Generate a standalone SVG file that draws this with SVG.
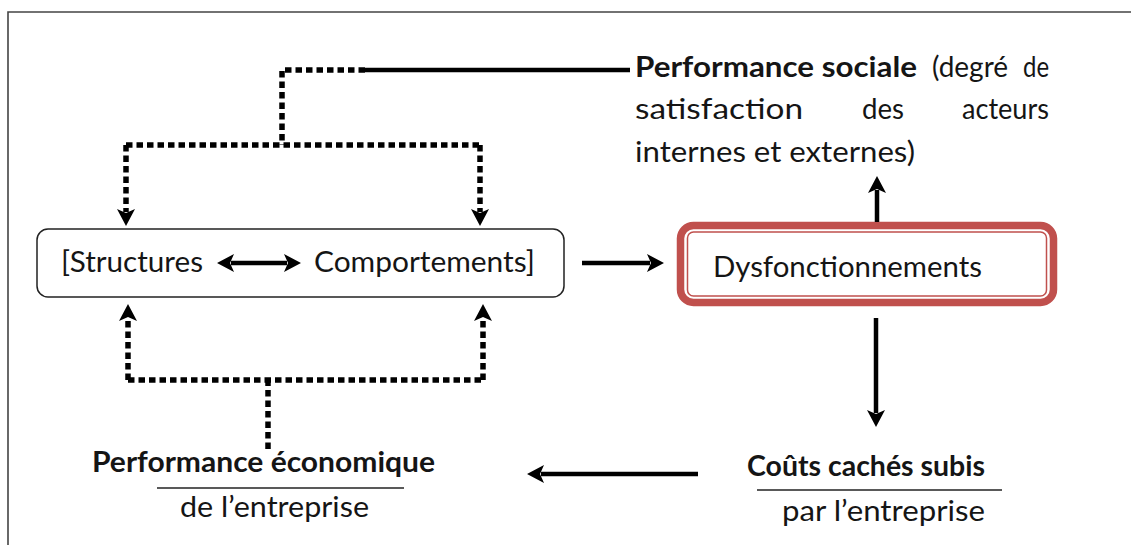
<svg xmlns="http://www.w3.org/2000/svg" width="1131" height="545" viewBox="0 0 1131 545">
  <style>
    .t { font-family: Lato, "Open Sans", "Liberation Sans", sans-serif; font-size: 29px; fill: #151515; }
    .b { font-weight: bold; }
    .solid { stroke: #000; stroke-width: 4.5; fill: none; }
    .dot { stroke: #000; stroke-width: 5.5; fill: none; stroke-dasharray: 6.5 4; }
    .rule { stroke: #222; stroke-width: 1.3; }
  </style>
  <defs>
    <marker id="ah" markerUnits="userSpaceOnUse" markerWidth="20" markerHeight="20" refX="3" refY="9" orient="auto">
      <path d="M0,0 L17,9 L0,18 L4,9 z" fill="#000"/>
    </marker>
    <marker id="ahs" markerUnits="userSpaceOnUse" markerWidth="20" markerHeight="20" refX="3" refY="9" orient="auto-start-reverse">
      <path d="M0,0 L17,9 L0,18 L4,9 z" fill="#000"/>
    </marker>
  </defs>
  <rect width="1131" height="545" fill="#fff"/>
  <g id="frame">
    <path d="M8,545 V12 H1131" fill="none" stroke="#444" stroke-width="1.6"/>
  </g>

  <g id="node-structures">
    <rect x="37" y="229" width="527" height="68" rx="11" fill="#fff" stroke="#222" stroke-width="1.5"/>
    <text class="t" x="61" y="272" textLength="142" lengthAdjust="spacingAndGlyphs">[Structures</text>
    <text class="t" x="314" y="272" textLength="221" lengthAdjust="spacingAndGlyphs">Comportements]</text>
  </g>

  <g id="node-dysfonctionnements">
    <rect x="680.5" y="225.5" width="373" height="77" rx="13" fill="#fff" stroke="#c0504d" stroke-width="7.5"/>
    <rect x="687.5" y="232" width="359" height="64" rx="6" fill="none" stroke="#c0504d" stroke-width="1.5"/>
    <text class="t" x="713" y="277" textLength="269" lengthAdjust="spacingAndGlyphs">Dysfonctionnements</text>
  </g>

  <g id="node-performance-sociale">
    <text class="t b" x="635" y="77" textLength="282" lengthAdjust="spacingAndGlyphs">Performance sociale</text>
    <text class="t" x="932" y="77" textLength="76" lengthAdjust="spacingAndGlyphs">(degré</text>
    <text class="t" x="1023" y="77" textLength="26" lengthAdjust="spacingAndGlyphs">de</text>
    <text class="t" x="635" y="119" textLength="168" lengthAdjust="spacingAndGlyphs">satisfaction</text>
    <text class="t" x="862" y="119" textLength="42" lengthAdjust="spacingAndGlyphs">des</text>
    <text class="t" x="962" y="119" textLength="87" lengthAdjust="spacingAndGlyphs">acteurs</text>
    <text class="t" x="635" y="162" textLength="280" lengthAdjust="spacingAndGlyphs">internes et externes)</text>
  </g>

  <g id="node-couts-caches">
    <text class="t b" x="747" y="476" textLength="238" lengthAdjust="spacingAndGlyphs">Coûts cachés subis</text>
    <line class="rule" x1="757" y1="490" x2="1002" y2="490"/>
    <text class="t" x="782" y="521" textLength="203" lengthAdjust="spacingAndGlyphs">par l’entreprise</text>
  </g>

  <g id="node-performance-economique">
    <text class="t b" x="92" y="472" textLength="343" lengthAdjust="spacingAndGlyphs">Performance économique</text>
    <line class="rule" x1="157" y1="488" x2="404" y2="488"/>
    <text class="t" x="180" y="517" textLength="189" lengthAdjust="spacingAndGlyphs">de l’entreprise</text>
  </g>

  <g id="connectors">
    <!-- top feedback from Performance sociale -->
    <path class="solid" d="M365,70 H630"/>
    <path class="dot" d="M365,70 H282 V145"/>
    <path class="dot" d="M126,145 H480"/>
    <path class="dot" d="M126,145 V212" marker-end="url(#ah)"/>
    <path class="dot" d="M480,145 V212" marker-end="url(#ah)"/>
    <!-- bottom feedback from Performance économique -->
    <path class="dot" d="M268,449 V380"/>
    <path class="dot" d="M128,380 H483"/>
    <path class="dot" d="M128,380 V318" marker-end="url(#ah)"/>
    <path class="dot" d="M483,380 V318" marker-end="url(#ah)"/>
    <!-- double arrow inside box -->
    <path class="solid" d="M231,263 H287" marker-start="url(#ahs)" marker-end="url(#ah)"/>
    <!-- box to dysfonctionnements -->
    <path class="solid" d="M582,263 H650" marker-end="url(#ah)"/>
    <!-- dysfonctionnements up to performance sociale -->
    <path class="solid" d="M877,222 V190" marker-end="url(#ah)"/>
    <!-- dysfonctionnements down to couts caches -->
    <path class="solid" d="M876,318 V413" marker-end="url(#ah)"/>
    <!-- couts caches to performance economique -->
    <path class="solid" d="M698,474 H541" marker-end="url(#ah)"/>
  </g>
</svg>
